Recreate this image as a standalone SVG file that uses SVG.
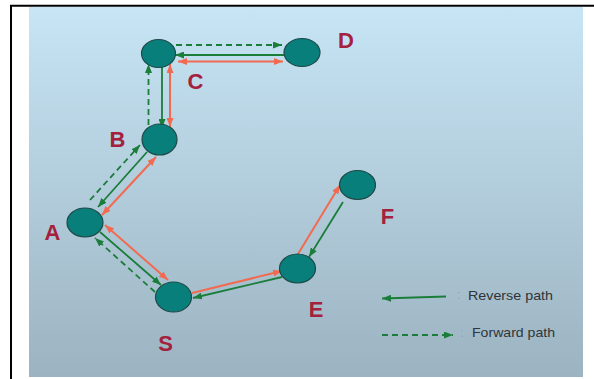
<svg xmlns="http://www.w3.org/2000/svg" width="594" height="379" viewBox="0 0 594 379">
  <style>
    .node { fill: #087f7b; stroke: #1d4a47; stroke-width: 1.2; }
    .lbl { font-family: "Liberation Sans", Arial, sans-serif; font-weight: bold; font-size: 22px; fill: #a4213d; text-anchor: middle; }
    .rev { stroke: #1b7d3a; stroke-width: 1.8; fill: none; marker-end: url(#ag); }
    .fwd { stroke: #1b7d3a; stroke-width: 1.8; fill: none; stroke-dasharray: 6 4; marker-end: url(#ag); }
    .req { stroke: #f26a50; stroke-width: 2; fill: none; marker-end: url(#ar); }
    .both { marker-start: url(#ar); }
    .leg { font-family: "Liberation Sans", Arial, sans-serif; font-size: 13px; fill: #2f3538; }
    .sep { font-family: "Liberation Sans", Arial, sans-serif; font-size: 12px; fill: #8fa3ad; }
  </style>
  <defs>
    <linearGradient id="bg" x1="0" y1="0" x2="0" y2="1">
      <stop offset="0" stop-color="#c7e5f5"/>
      <stop offset="1" stop-color="#9cb3c1"/>
    </linearGradient>
    <marker id="ag" markerUnits="userSpaceOnUse" markerWidth="9" markerHeight="7" refX="9" refY="3.5" orient="auto-start-reverse">
      <path d="M0,0 L9,3.5 L0,7 z" fill="#1b7d3a"/>
    </marker>
    <marker id="ar" markerUnits="userSpaceOnUse" markerWidth="9" markerHeight="7" refX="9" refY="3.5" orient="auto-start-reverse">
      <path d="M0,0 L9,3.5 L0,7 z" fill="#f26a50"/>
    </marker>
  </defs>

  <!-- frame and backdrop -->
  <rect x="29" y="7" width="554" height="370" fill="url(#bg)"/>
  <line x1="10" y1="5.8" x2="594" y2="5.8" stroke="#000" stroke-width="2"/>
  <line x1="11" y1="5" x2="11" y2="379" stroke="#000" stroke-width="2"/>

  <!-- connectors -->
  <g id="connectors">
    <!-- C / D -->
    <path class="fwd" d="M176,45 L282,45"/>
    <path class="rev" d="M284,55 L175,55"/>
    <path class="req both" d="M178,61.5 L283,61.5"/>
    <!-- C / B -->
    <path class="fwd" d="M148.5,125 L148.5,64"/>
    <path class="rev" d="M162,67 L162,128"/>
    <path class="req both" d="M170,64 L170,127"/>
    <!-- B / A -->
    <path class="fwd" d="M90,200 L140,145"/>
    <path class="rev" d="M147,152 L98,207"/>
    <path class="req both" d="M156,157 L102,215"/>
    <!-- A / S -->
    <path class="req both" d="M105,225 L168,280"/>
    <path class="rev" d="M100,232 L161,285"/>
    <path class="fwd" d="M155,292 L95,238"/>
    <!-- S / E -->
    <path class="req" d="M192,293 L282,271"/>
    <path class="rev" d="M282,277 L193,298"/>
    <!-- E / F -->
    <path class="req" d="M298,254 L340,185"/>
    <path class="rev" d="M343,202 L309,257"/>
  </g>

  <!-- nodes -->
  <g id="node-C">
    <ellipse class="node" cx="158.5" cy="53.5" rx="17" ry="14"/>
    <text class="lbl" x="195.5" y="89">C</text>
  </g>
  <g id="node-D">
    <ellipse class="node" cx="302" cy="52.5" rx="18" ry="14"/>
    <text class="lbl" x="346" y="48">D</text>
  </g>
  <g id="node-B">
    <ellipse class="node" cx="159.5" cy="139.5" rx="17.5" ry="15.5"/>
    <text class="lbl" x="117.5" y="146.5">B</text>
  </g>
  <g id="node-A">
    <ellipse class="node" cx="85" cy="222.5" rx="18" ry="14.5"/>
    <text class="lbl" x="52.5" y="239.5">A</text>
  </g>
  <g id="node-S">
    <ellipse class="node" cx="173.5" cy="297" rx="18" ry="15"/>
    <text class="lbl" x="165.5" y="350.5">S</text>
  </g>
  <g id="node-E">
    <ellipse class="node" cx="297.5" cy="268.5" rx="18" ry="14.5"/>
    <text class="lbl" x="316" y="317">E</text>
  </g>
  <g id="node-F">
    <ellipse class="node" cx="357.5" cy="185" rx="18" ry="14.5"/>
    <text class="lbl" x="387.5" y="223.5">F</text>
  </g>

  <!-- legend -->
  <g id="legend">
    <path class="rev" d="M446,296.5 L382,298.5"/>
    <text class="sep" x="457" y="299">:</text>
    <text class="leg" x="468" y="299.5" textLength="85" lengthAdjust="spacingAndGlyphs">Reverse path</text>
    <path class="fwd" d="M382,335 L453,335"/>
    <text class="sep" x="460.5" y="336.5">:</text>
    <text class="leg" x="472" y="337" textLength="83" lengthAdjust="spacingAndGlyphs">Forward path</text>
  </g>
</svg>
